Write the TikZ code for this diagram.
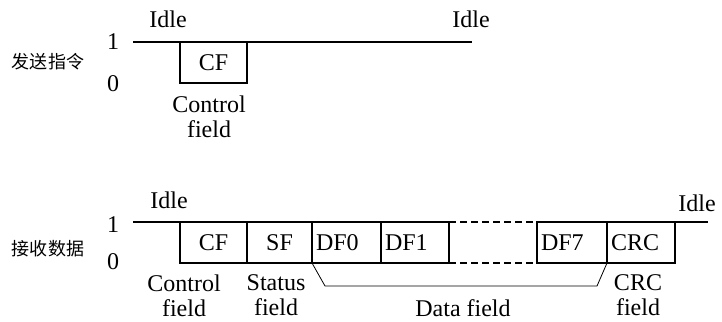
\documentclass[tikz,border=0pt]{standalone}
\usepackage{fontspec}
\setmainfont{Liberation Serif}
\newfontfamily\cjk{Noto Sans CJK SC}
\begin{document}
\begin{tikzpicture}[x=1pt,y=-1pt,
  every node/.style={font=\fontsize{24}{25}\selectfont},
  lvl/.style={line width=1.6pt},
  box/.style={draw, line width=1.6pt, minimum height=41pt, inner sep=0pt, outer sep=0pt, anchor=north west},
  boxl/.style={box, align=left, inner xsep=4pt, text width=#1},
  lab/.style={inner sep=0pt, anchor=base},
  field/.style={inner sep=0pt, anchor=north, align=center},
  cn/.style={font=\cjk\fontsize{18}{20}\selectfont, inner sep=0pt},
  brk/.style={line width=0.8pt},
  gap/.style={line width=1.6pt, dash pattern=on 7pt off 4pt}]
\useasboundingbox (0,0) rectangle (722,321);
\fill[white] (0,0) rectangle (722,321);

% ---------- top: send command ----------
\node[cn] (t_cn) at (48,62) {发送指令};
\node[inner sep=0pt] (t1) at (113,42) {1};
\node[inner sep=0pt] (t0) at (113,84) {0};
\node[lab] (tidle1) at (168,28) {Idle};
\node[lab] (tidle2) at (471,28) {Idle};
\coordinate (ts) at (133,42);
\coordinate (te) at (472,42);
\node[box, minimum width=67pt] (tcf) at (180,42) {CF};
\draw[lvl] (ts) -- (tcf.north west);
\draw[lvl] (tcf.north east) -- (te);
\node[field] (tcfl) at (209,95.6) {Control\\field};

% ---------- bottom: receive data ----------
\node[cn] (b_cn) at (48,249) {接收数据};
\node[inner sep=0pt] (b1) at (113,225) {1};
\node[inner sep=0pt] (b0) at (113,262) {0};
\node[lab] (bidle1) at (169,208) {Idle};
\node[lab] (bidle2) at (697,211) {Idle};
\coordinate (bs) at (133,222);
\coordinate (be) at (708,222);
\node[box, minimum width=67pt] (bcf) at (180,222) {CF};
\node[box, minimum width=65pt] (bsf) at (bcf.north east) {SF};
\node[boxl=61pt] (df0) at (bsf.north east) {DF0};
\node[boxl=60pt] (df1) at (df0.north east) {DF1};
\node[boxl=62pt] (df7) at (537,222) {DF7};
\node[boxl=60pt] (crc) at (df7.north east) {CRC};
\draw[lvl] (bs) -- (bcf.north west);
\draw[lvl] (crc.north east) -- (be);
\draw[gap] (df1.north east) -- (df7.north west);
\draw[gap] (df1.south east) -- (df7.south west);

% bracket for data field
\coordinate (k1) at (325,286);
\coordinate (k2) at (597,286);
\draw[brk] (df0.south west) -- (k1) -- (k2) -- (df7.south east);

\node[field] (bcfl) at (184,274.6) {Control\\field};
\node[field] (bsfl) at (276,274.6) {Status\\field};
\node[lab] (dfl) at (463,316) {Data field};
\node[field] (crcl) at (638,274.6) {CRC\\field};
\end{tikzpicture}
\end{document}
